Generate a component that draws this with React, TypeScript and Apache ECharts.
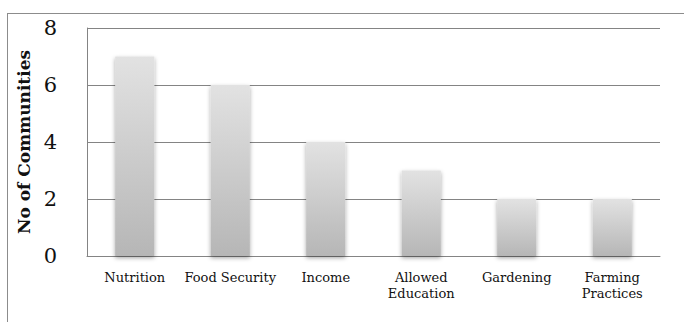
import React, { useEffect, useRef } from "react";
import * as echarts from "echarts";

const categories = ["Nutrition", "Food Security", "Income", "Allowed\nEducation", "Gardening", "Farming\nPractices"];
const values = [7, 6, 4, 3, 2, 2];
const yAxisName = "No of Communities";

export default function App() {
  const ref = useRef<HTMLDivElement>(null);
  useEffect(() => {
    const chart = echarts.init(ref.current!, null, { renderer: "svg" });
    chart.setOption({
      animation: false,
      backgroundColor: "#fff",
      grid: { left: 87, right: 24, top: 28, bottom: 66, containLabel: false },
      graphic: [
        { type: "line", shape: { x1: 7, y1: 13.5, x2: 684, y2: 13.5 }, style: { stroke: "#8c8c8c", lineWidth: 1 } },
        { type: "line", shape: { x1: 7.5, y1: 13, x2: 7.5, y2: 322 }, style: { stroke: "#8c8c8c", lineWidth: 1 } },
      ],
      xAxis: {
        type: "category",
        data: categories,
        axisLine: { show: true, lineStyle: { color: "#848484", width: 1 } },
        axisTick: { show: false },
        axisLabel: {
          color: "#111",
          fontFamily: "DejaVu Serif",
          fontSize: 13,
          lineHeight: 16,
          margin: 13,
          interval: 0,
        },
      },
      yAxis: {
        type: "value",
        min: 0,
        max: 8,
        interval: 2,
        name: yAxisName,
        nameLocation: "middle",
        nameGap: 51,
        nameTextStyle: { fontFamily: "DejaVu Serif", fontWeight: "bold", fontSize: 17, color: "#111" },
        axisLine: { show: true, lineStyle: { color: "#848484", width: 1 } },
        axisTick: { show: false },
        splitLine: { show: true, lineStyle: { color: "#848484", width: 1 } },
        axisLabel: { color: "#111", fontFamily: "DejaVu Serif", fontSize: 21, margin: 30 },
      },
      series: [
        {
          type: "bar",
          data: values,
          barWidth: "41%",
          itemStyle: {
            color: new echarts.graphic.LinearGradient(0, 0, 0, 1, [
              { offset: 0, color: "#e2e2e2" },
              { offset: 1, color: "#b6b6b6" },
            ]),
            shadowBlur: 4,
            shadowColor: "rgba(0,0,0,0.35)",
            shadowOffsetY: 2,
          },
        },
      ],
    });
    return () => chart.dispose();
  }, []);
  return <div ref={ref} style={{ position: "fixed", left: 0, top: 0, width: 684, height: 322 }} />;
}
